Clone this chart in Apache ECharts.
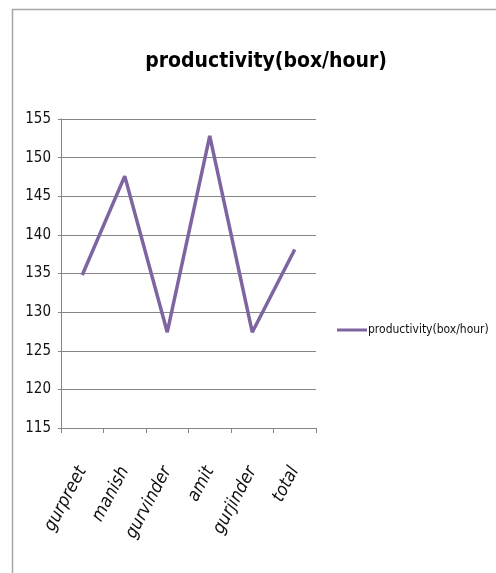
<!DOCTYPE html>
<html>
<head>
<meta charset="utf-8">
<script src="https://cdn.jsdelivr.net/npm/echarts@6/dist/echarts.min.js"></script>
<style>html,body{margin:0;padding:0;background:#fff}#c{width:496px;height:573px}</style>
</head>
<body>
<div id="c"></div>
<script>
const categories = ['gurpreet', 'manish', 'gurvinder', 'amit', 'gurjinder', 'total'];
const productivity = [134.8, 147.6, 127.4, 152.8, 127.4, 138.1];
const seriesName = 'productivity(box/hour)';
const titleText = 'productivity(box/hour)';
const yTicks = { min: 115, max: 155, interval: 5 };

const FONT = "'DejaVu Sans Condensed', 'Liberation Sans', sans-serif";
const chart = echarts.init(document.getElementById('c'), null, { renderer: 'canvas' });
chart.setOption({
  backgroundColor: '#fff',
  animation: false,
  title: {
    text: titleText,
    left: 261, top: 46, textAlign: 'center',
    textStyle: { fontFamily: FONT, fontSize: 21, fontWeight: 'bold', color: '#000' }
  },
  legend: {
    data: [seriesName],
    left: 332, top: 319,
    itemWidth: 30, itemHeight: 12, itemGap: 4,
    icon: 'path://M0,5 L30,5 L30,8 L0,8 Z',
    textStyle: { fontFamily: FONT, fontSize: 12, color: '#111', padding: [0,0,0,-4] }
  },
  grid: { left: 61, right: 180, top: 119, bottom: 145 },
  xAxis: {
    type: 'category',
    data: categories,
    boundaryGap: true,
    axisLine: { lineStyle: { color: '#868686', width: 1 } },
    axisTick: { show: true, length: 5, lineStyle: { color: '#868686' } },
    axisLabel: { rotate: 62, fontFamily: FONT, fontSize: 18, fontStyle: 'italic', color: '#111', margin: 40, interval: 0 }
  },
  yAxis: {
    type: 'value',
    min: yTicks.min, max: yTicks.max, interval: yTicks.interval,
    axisLine: { show: true, lineStyle: { color: '#868686', width: 1 } },
    axisTick: { show: true, length: 3, lineStyle: { color: '#868686' } },
    splitLine: { show: true, lineStyle: { color: '#868686', width: 1 } },
    axisLabel: { fontFamily: FONT, fontSize: 15, color: '#111', margin: 10 }
  },
  graphic: [
    { type: 'line', shape: { x1: 12.5, y1: 9, x2: 12.5, y2: 573 }, style: { stroke: '#a6a6a6', lineWidth: 1.5 } },
    { type: 'line', shape: { x1: 12, y1: 9.5, x2: 496, y2: 9.5 }, style: { stroke: '#a6a6a6', lineWidth: 1.5 } }
  ],
  series: [{
    name: seriesName,
    type: 'line',
    data: productivity,
    symbol: 'none',
    lineStyle: { color: '#7f64a2', width: 3.5 },
    itemStyle: { color: '#7f64a2' }
  }]
});
</script>
</body>
</html>
